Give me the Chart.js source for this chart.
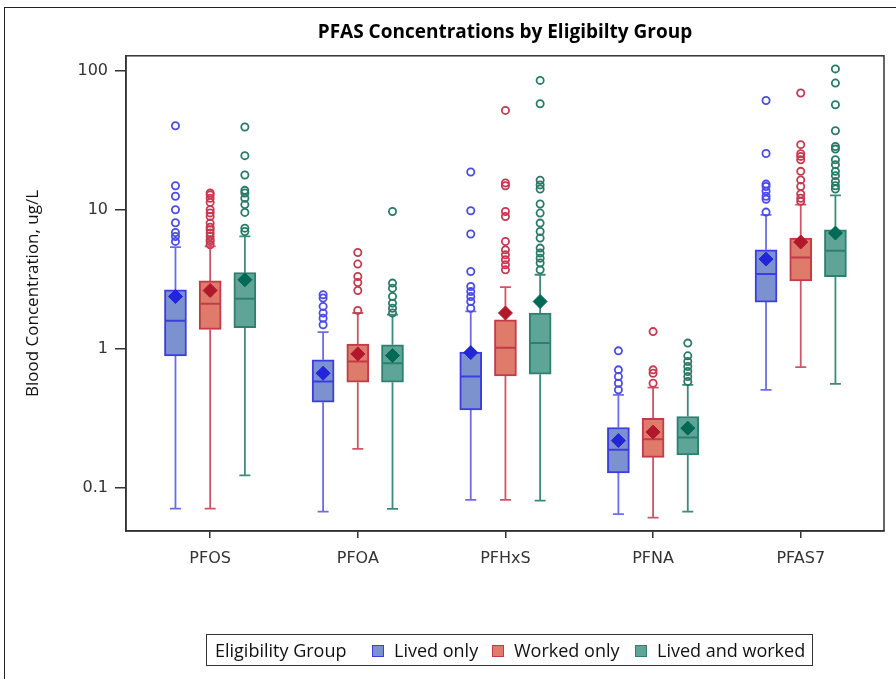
<!DOCTYPE html>
<html>
<head>
<meta charset="utf-8">
<script src="https://cdn.jsdelivr.net/npm/chart.js@4"></script>
<style>
  html, body { margin: 0; padding: 0; background: #fff; overflow: hidden; }
  #wrap { position: relative; width: 896px; height: 679px; }
  #frame { position: absolute; left: 4px; top: 7px; width: 1000px; height: 800px; border-left: 1.5px solid #222; border-top: 1.5px solid #222; pointer-events: none; }
  #legend { position: absolute; left: 206px; top: 634px; width: 607px; height: 32px; box-sizing: border-box; border: 1px solid #333; font: 18px "Open Sans", sans-serif; color: #111; white-space: nowrap; }
  #legend span { position: absolute; top: 2px; line-height: 26px; }
  #legend .sw { top: 10px; width: 10px; height: 10px; border: 1.5px solid; }
</style>
</head>
<body>
<div id="wrap">
  <canvas id="c" width="896" height="679"></canvas>
  <div id="frame"></div>
  <div id="legend">
    <span style="left:8px">Eligibility Group</span>
    <span class="sw" style="left:165px;background:#7b92cf;border-color:#3c3ce0"></span><span style="left:187px">Lived only</span>
    <span class="sw" style="left:285px;background:#df7b6b;border-color:#c33a48"></span><span style="left:307px">Worked only</span>
    <span class="sw" style="left:428px;background:#5ea597;border-color:#2e7f6f"></span><span style="left:450px">Lived and worked</span>
  </div>
</div>
<script>
const categories = ['PFOS', 'PFOA', 'PFHxS', 'PFNA', 'PFAS7'];
const groups = ['Lived only', 'Worked only', 'Lived and worked'];
const yTicks = [0.1, 1, 10, 100];

// one row per group, one value per category
const whiskerLow = [
  [0.071, 0.0675, 0.082, 0.0647, 0.507],
  [0.071, 0.191, 0.082, 0.0612, 0.738],
  [0.123, 0.0706, 0.081, 0.0675, 0.56]
];
const q1 = [
  [0.89, 0.413, 0.364, 0.128, 2.17],
  [1.38, 0.575, 0.639, 0.166, 3.08],
  [1.42, 0.575, 0.657, 0.173, 3.31]
];
const median = [
  [1.59, 0.582, 0.632, 0.188, 3.45],
  [2.11, 0.811, 1.02, 0.224, 4.54],
  [2.29, 0.789, 1.10, 0.230, 5.07]
];
const q3 = [
  [2.66, 0.834, 0.946, 0.272, 5.15],
  [3.08, 1.08, 1.62, 0.317, 6.26],
  [3.54, 1.07, 1.81, 0.326, 7.18]
];
const mean = [
  [2.38, 0.668, 0.94, 0.219, 4.42],
  [2.63, 0.92, 1.81, 0.252, 5.86],
  [3.14, 0.895, 2.19, 0.269, 6.80]
];
const whiskerHigh = [
  [5.39, 1.32, 1.86, 0.467, 9.2],
  [5.45, 1.81, 2.78, 0.527, 10.9],
  [6.43, 1.76, 3.41, 0.551, 12.7]
];
const outliers = [
  [
    [40.2, 14.9, 12.5, 10, 8.06, 6.87, 6.43, 5.92],
    [2.45, 2.32, 2.02, 1.81, 1.66, 1.49],
    [18.7, 9.84, 6.69, 3.60, 2.81, 2.58, 2.38, 2.19, 1.96],
    [0.967, 0.706, 0.632, 0.566, 0.507],
    [61.1, 25.4, 15.3, 14.7, 13.6, 12.5, 11.9, 9.62]
  ],
  [
    [13.2, 12.8, 12.1, 11.3, 10, 9.5, 8.95, 8.02, 7.5, 7.18, 6.8, 6.43, 6.1, 5.92, 5.6],
    [4.93, 4.07, 3.31, 3.0, 2.63, 1.89],
    [51.8, 15.6, 14.9, 9.72, 8.95, 5.92, 5.15, 4.74, 4.37, 4.02, 3.70],
    [1.33, 0.706, 0.668, 0.566],
    [69.2, 29.4, 25.3, 24.2, 22.9, 18.9, 16.4, 14.7, 13.0, 12.1, 11.5]
  ],
  [
    [39.4, 24.5, 17.8, 13.8, 13.2, 12.1, 10.9, 9.57, 7.38, 6.98],
    [9.72, 2.97, 2.73, 2.38, 2.13, 1.96, 1.81],
    [85.2, 57.9, 16.3, 15.1, 14.1, 11.0, 9.47, 8.02, 6.98, 6.26, 5.30, 4.88, 4.49, 4.14, 3.70],
    [1.10, 0.891, 0.811, 0.746, 0.687, 0.632, 0.582],
    [103, 81.5, 56.9, 37.0, 28.5, 27.3, 22.9, 21.1, 18.9, 17.6, 16.0, 14.9, 14.1]
  ]
];

const boxFill = ['#7b92cf', '#df7b6b', '#5ea597'];
const boxEdge = ['#3c3ce0', '#c33a48', '#2e7f6f'];
const whiskerCol = ['#6c6ce8', '#cc5666', '#3d8a7b'];
const meanCol = ['#2424d8', '#b2182b', '#006a56'];
const outCol = ['#4b4be8', '#c43a50', '#2a7a68'];
const offsets = [-0.235, 0, 0.235];

const datasets = [];
groups.forEach((g, k) => {
  const xs = categories.map((c, i) => i + offsets[k]);
  // whisker stems, gaps between segments
  const stems = [];
  xs.forEach((x, i) => {
    stems.push({x, y: whiskerLow[k][i]}, {x, y: q1[k][i]}, {x, y: null});
    stems.push({x, y: q3[k][i]}, {x, y: whiskerHigh[k][i]}, {x, y: null});
  });
  datasets.push({type: 'line', label: g + ' whisker', data: stems, borderColor: whiskerCol[k], borderWidth: 1.8, pointRadius: 0, spanGaps: false, order: 6});
  datasets.push({type: 'bar', label: g, data: xs.map((x, i) => ({x, y: [q1[k][i], q3[k][i]]})),
    backgroundColor: boxFill[k], borderColor: boxEdge[k], borderWidth: 2, borderSkipped: false, barThickness: 22, grouped: false, order: 5});
  const caps = [];
  xs.forEach((x, i) => { caps.push({x, y: whiskerLow[k][i]}, {x, y: whiskerHigh[k][i]}); });
  datasets.push({type: 'scatter', label: g + ' caps', data: caps, pointStyle: 'line', pointRadius: 5.5, borderColor: whiskerCol[k], pointBorderWidth: 1.8, order: 4});
  datasets.push({type: 'scatter', label: g + ' median', data: xs.map((x, i) => ({x, y: median[k][i]})), pointStyle: 'line', pointRadius: 10, borderColor: boxEdge[k], pointBorderWidth: 2, order: 3});
  datasets.push({type: 'scatter', label: g + ' mean', data: xs.map((x, i) => ({x, y: mean[k][i]})), pointStyle: 'rectRot', pointRadius: 7, backgroundColor: meanCol[k], borderColor: meanCol[k], pointBorderWidth: 1, order: 2});
  const outs = [];
  xs.forEach((x, i) => outliers[k][i].forEach(v => outs.push({x, y: v})));
  datasets.push({type: 'scatter', label: g + ' outliers', data: outs, pointStyle: 'circle', pointRadius: 3.6, backgroundColor: 'rgba(0,0,0,0)', borderColor: outCol[k], pointBorderWidth: 1.8, order: 1});
});

const framePlugin = {
  id: 'frame',
  afterDraw(chart) {
    const {ctx, chartArea: a} = chart;
    ctx.save();
    ctx.strokeStyle = '#333';
    ctx.lineWidth = 1.5;
    ctx.strokeRect(a.left, a.top, a.right - a.left, a.bottom - a.top);
    ctx.restore();
  }
};

const tickFont = {family: '"DejaVu Sans", sans-serif', size: 16};

new Chart(document.getElementById('c'), {
  data: {datasets},
  options: {
    responsive: false,
    animation: false,
    events: [],
    layout: {padding: {left: 0, right: 5, top: 0, bottom: 0}},
    plugins: {
      legend: {display: false},
      tooltip: {enabled: false},
      title: {
        display: true, fullSize: false,
        text: 'PFAS Concentrations by Eligibilty Group',
        color: '#000',
        font: {family: '"Open Sans", sans-serif', size: 19, weight: 'bold'},
        padding: {top: 21, bottom: 12}
      }
    },
    scales: {
      x: {
        type: 'linear', min: -0.57, max: 4.564, offset: false,
        afterBuildTicks: s => { s.ticks = categories.map((c, i) => ({value: i})); },
        afterFit: s => { s.height = 148; },
        ticks: {callback: v => categories[v], font: tickFont, color: '#333', padding: 11, autoSkip: false, maxRotation: 0},
        grid: {display: true, offset: false, drawOnChartArea: false, tickLength: 7, color: '#333', lineWidth: 1.5},
        border: {color: '#333', width: 1.5}
      },
      y: {
        type: 'logarithmic', min: 0.049, max: 128,
        afterBuildTicks: s => { s.ticks = yTicks.map(v => ({value: v})); },
        afterFit: s => { s.width = 126; },
        ticks: {callback: v => String(v), font: tickFont, color: '#333', padding: 7},
        grid: {display: true, drawOnChartArea: false, tickLength: 11, color: '#333', lineWidth: 1.5},
        border: {color: '#333', width: 1.5},
        title: {display: true, text: 'Blood Concentration, ug/L', color: '#111', font: {family: '"Open Sans", sans-serif', size: 17}, padding: {top: 23, bottom: 0}}
      }
    }
  },
  plugins: [framePlugin]
});
</script>
</body>
</html>
